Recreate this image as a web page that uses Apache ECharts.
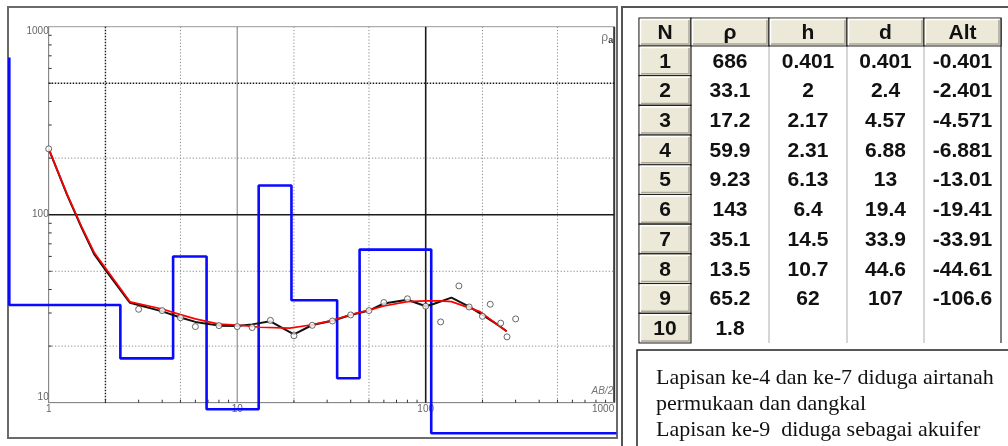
<!DOCTYPE html>
<html>
<head>
<meta charset="utf-8">
<script src="https://cdn.jsdelivr.net/npm/echarts@6/dist/echarts.min.js"></script>
<style>
  html, body { margin: 0; padding: 0; background: #fff; }
  #chart { width: 1008px; height: 446px; }
</style>
</head>
<body>
<div id="chart"></div>
<script>
// ---- Layered earth model (interpretation result) ----
const layerRho = [686, 33.1, 17.2, 59.9, 9.23, 143, 35.1, 13.5, 65.2, 1.8];
const layerH   = [0.401, 2, 2.17, 2.31, 6.13, 6.4, 14.5, 10.7, 62];
const layerD   = [0.401, 2.4, 4.57, 6.88, 13, 19.4, 33.9, 44.6, 107];
const layerAlt = [-0.401, -2.401, -4.571, -6.881, -13.01, -19.41, -33.91, -44.61, -106.6];
const tableHeaders = ['N', 'ρ', 'h', 'd', 'Alt'];

// ---- Field sounding: AB/2 (m) vs apparent resistivity (Ohm.m) ----
const obsAB2 = [1, 3, 4, 5, 6, 8, 10, 12, 15, 20, 25, 32, 40, 50, 60, 80, 100, 120, 150, 170, 200, 220, 250, 270, 300];
const obsRho = [224, 31.4, 30.9, 28.3, 25.4, 25.7, 25.4, 25.1, 27.4, 22.7, 25.8, 27.2, 29.3, 30.9, 34.1, 35.7, 32.6, 26.9, 41.8, 32.3, 28.8, 33.4, 26.5, 22.4, 27.9];

// ---- Smoothed field curve ----
const smoothAB2 = [1, 1.25, 1.5, 1.75, 2, 2.7, 4, 5, 6, 8, 10, 12, 15, 20, 25, 32, 40, 50, 60, 80, 100, 110, 137, 171, 200, 246, 269];
const smoothRho = [224, 128, 84.7, 61.2, 50.8, 34.0, 30.6, 28.4, 26.9, 25.7, 25.6, 26.1, 27.1, 23.1, 25.9, 27.3, 29.3, 30.9, 33.7, 35.3, 32.6, 33.5, 36.2, 32.3, 29.3, 25.6, 24.0];

// ---- Calculated model curve ----
const modelAB2 = [1, 1.25, 1.5, 1.75, 2, 2.7, 4, 5, 6, 8, 10, 13.2, 19, 24.5, 31.7, 39.6, 50, 60, 80, 100, 120, 137, 194, 268];
const modelRho = [224, 129, 85.5, 62.5, 52.1, 34.4, 31.5, 29.4, 27.9, 26.2, 25.9, 25.2, 24.9, 25.9, 27.3, 29.3, 31.1, 32.7, 34.5, 34.8, 34.8, 34.5, 30.5, 24.0];

// ---- Axis decoration ----
const xRange = [1, 1000];
const yRange = [10, 1000];
const xGridDotted = [5, 20, 50, 200, 500];
const xGridBold = [2];
const xGridSolid = [10];
const xGridHeavy = [100];
const yGridDotted = [20, 50, 200];
const yGridBold = [500];
const yGridHeavy = [100];
const minorMultipliers = [2, 3, 4, 5, 6, 7, 8, 9];
const xDecades = [1, 10, 100];
const yDecades = [10, 100];

// ---- Layout ----
const PLOT = { left: 48.7, top: 26.7, width: 565.5, height: 376 };
const MODEL_BOX = { left: 9.3, right: 616.5, bottom: 433.3 };
const pxPerDecX = PLOT.width / Math.log10(xRange[1] / xRange[0]);
const pxPerDecY = PLOT.height / Math.log10(yRange[1] / yRange[0]);
const xMinExt = xRange[0] * Math.pow(10, -(PLOT.left - MODEL_BOX.left) / pxPerDecX);
const xMaxExt = xRange[1] * Math.pow(10, (MODEL_BOX.right - (PLOT.left + PLOT.width)) / pxPerDecX);
const yMinExt = yRange[0] * Math.pow(10, -(MODEL_BOX.bottom - (PLOT.top + PLOT.height)) / pxPerDecY);
const yMaxExt = yRange[1];

// step path of the layer model, clamped to the model panel
function modelSteps() {
  const clampX = v => Math.min(Math.max(v, xMinExt), xMaxExt);
  const clampY = v => Math.min(Math.max(v, yMinExt), yMaxExt);
  const pts = [[xMinExt, clampY(layerRho[0])]];
  for (let i = 0; i < layerD.length; i++) {
    const x = clampX(layerD[i]);
    pts.push([x, clampY(layerRho[i])]);
    pts.push([x, clampY(layerRho[i + 1])]);
  }
  pts.push([xMaxExt, clampY(layerRho[layerRho.length - 1])]);
  return pts;
}

const zip = (a, b) => a.map((v, i) => [v, b[i]]);

function gridLineItems(values, style) {
  return values.map(v => ({ value: [v, yRange[0]], s: style }));
}
const GRID_STYLES = {
  dotted: { stroke: '#8a8a8a', lineWidth: 1, lineDash: [1.2, 2] },
  bold:   { stroke: '#1a1a1a', lineWidth: 1.4, lineDash: [1.5, 1.5] },
  solid:  { stroke: '#777', lineWidth: 1 },
  heavy:  { stroke: '#1a1a1a', lineWidth: 1.6 }
};
const vGrid = [].concat(
  gridLineItems(xGridDotted, 'dotted'), gridLineItems(xGridBold, 'bold'),
  gridLineItems(xGridSolid, 'solid'), gridLineItems(xGridHeavy, 'heavy'));
const hGrid = [].concat(
  yGridDotted.map(v => ({ value: [xRange[0], v], s: 'dotted' })),
  yGridBold.map(v => ({ value: [xRange[0], v], s: 'bold' })),
  yGridHeavy.map(v => ({ value: [xRange[0], v], s: 'heavy' })));
const hGridStyle = hGrid.map(d => d.s);
const vGridStyle = vGrid.map(d => d.s);

const xMinor = [];
xDecades.forEach(d => minorMultipliers.forEach(m => xMinor.push([d * m, yRange[0]])));
const yMinor = [];
yDecades.forEach(d => minorMultipliers.forEach(m => yMinor.push([xRange[0], d * m])));

// ---- Table on the right ----
const TABLE = { cols: [639, 691, 769, 847, 924, 1001], top: 18, headH: 28, rowH: 29.7 };
const BEIGE = '#ECE9D8';
const tableFont = 'bold 21px "Liberation Sans", Arial, sans-serif';

function fmt(v) { return v === undefined ? '' : String(v); }

function buildTable() {
  const g = [];
  const c = TABLE.cols;
  const nRows = layerRho.length;
  const bodyTop = TABLE.top + TABLE.headH;
  const bottom = bodyTop + nRows * TABLE.rowH;

  // white body
  g.push({ type: 'rect', shape: { x: c[1], y: bodyTop, width: c[5] - c[1], height: bottom - bodyTop },
           style: { fill: '#fff' } });
  // column separators in the body
  for (let k = 2; k < 5; k++) {
    g.push({ type: 'line', shape: { x1: c[k], y1: bodyTop, x2: c[k], y2: bottom },
             style: { stroke: '#c8c8c8', lineWidth: 1.5 } });
  }
  g.push({ type: 'line', shape: { x1: c[5], y1: TABLE.top, x2: c[5], y2: bottom },
           style: { stroke: '#555', lineWidth: 1.5 } });

  const beigeCell = (x, y, w, h) => {
    g.push({ type: 'rect', shape: { x: x, y: y, width: w, height: h },
             style: { fill: BEIGE, stroke: '#222', lineWidth: 1.2 } });
    g.push({ type: 'polyline', shape: { points: [[x + 1.5, y + h - 1.5], [x + 1.5, y + 1.5], [x + w - 1.5, y + 1.5]] },
             style: { stroke: '#fff', lineWidth: 1.5, fill: null } });
    g.push({ type: 'polyline', shape: { points: [[x + 2, y + h - 2], [x + w - 2, y + h - 2], [x + w - 2, y + 2]] },
             style: { stroke: '#aca899', lineWidth: 1.5, fill: null } });
  };
  const text = (x, y, s) => g.push({ type: 'text', x: x, y: y,
    style: { text: s, font: tableFont, fill: '#111', align: 'center', verticalAlign: 'middle' } });

  // header row
  for (let k = 0; k < 5; k++) {
    beigeCell(c[k], TABLE.top, c[k + 1] - c[k], TABLE.headH);
    text((c[k] + c[k + 1]) / 2, TABLE.top + TABLE.headH / 2 + 1, tableHeaders[k]);
  }
  // body rows
  for (let i = 0; i < nRows; i++) {
    const y = bodyTop + i * TABLE.rowH;
    const cy = y + TABLE.rowH / 2 + 1;
    beigeCell(c[0], y, c[1] - c[0], TABLE.rowH);
    text((c[0] + c[1]) / 2, cy, String(i + 1));
    text((c[1] + c[2]) / 2, cy, fmt(layerRho[i]));
    text((c[2] + c[3]) / 2, cy, fmt(layerH[i]));
    text((c[3] + c[4]) / 2, cy, fmt(layerD[i]));
    text((c[4] + c[5]) / 2, cy, fmt(layerAlt[i]));
  }
  // note box
  const boxTop = bottom + 7;
  g.push({ type: 'rect', shape: { x: 637, y: boxTop, width: 400, height: 120 },
           style: { fill: '#fff', stroke: '#222', lineWidth: 1.5 } });
  const notes = ['Lapisan ke-4 dan ke-7 diduga airtanah', 'permukaan dan dangkal', 'Lapisan ke-9  diduga sebagai akuifer'];
  notes.forEach((s, i) => g.push({ type: 'text', x: 656, y: boxTop + 28 + i * 26,
    style: { text: s, font: '22px "Liberation Serif", "Times New Roman", serif', fill: '#111',
             align: 'left', verticalAlign: 'middle' } }));
  return g;
}

const graphics = [
  // left panel frame
  { type: 'rect', shape: { x: 8, y: 7, width: 609, height: 431 },
    style: { fill: null, stroke: '#6a6a6a', lineWidth: 2 } },
  // right edge of the plot box
  { type: 'line', shape: { x1: PLOT.left + PLOT.width, y1: PLOT.top, x2: PLOT.left + PLOT.width, y2: PLOT.top + PLOT.height },
    style: { stroke: '#3a3a3a', lineWidth: 2 } },
  // right panel frame
  { type: 'polyline', shape: { points: [[622, 446], [622, 7], [1008, 7]] },
    style: { stroke: '#555', lineWidth: 2, fill: null } },
  // axis captions
  { type: 'text', x: PLOT.left + PLOT.width - 1, y: PLOT.top + 11,
    style: { text: '{r|ρ}{s|a}', align: 'right', verticalAlign: 'middle',
             rich: { r: { fontSize: 12, fill: '#777', fontFamily: 'Liberation Sans' },
                     s: { fontSize: 9, fill: '#333', fontWeight: 'bold', padding: [5, 0, 0, 0], fontFamily: 'Liberation Sans' } } } },
  { type: 'text', x: PLOT.left + PLOT.width - 1, y: PLOT.top + PLOT.height - 11,
    style: { text: 'AB/2', align: 'right', verticalAlign: 'middle', fontSize: 10, fontStyle: 'italic',
             fill: '#777', fontFamily: 'Liberation Sans' } }
].concat(buildTable());

const chart = echarts.init(document.getElementById('chart'), null, { renderer: 'canvas' });

const tickFormatter = v => String(Math.round(v));

const option = {
  animation: false,
  backgroundColor: '#fff',
  grid: [
    { left: PLOT.left, top: PLOT.top, width: PLOT.width, height: PLOT.height,
      show: true, borderColor: '#999', borderWidth: 1, backgroundColor: '#fff' },
    { left: MODEL_BOX.left, top: PLOT.top, width: MODEL_BOX.right - MODEL_BOX.left,
      height: MODEL_BOX.bottom - PLOT.top, show: false }
  ],
  xAxis: [
    { type: 'log', logBase: 10, gridIndex: 0, min: xRange[0], max: xRange[1],
      axisLine: { show: true, lineStyle: { color: '#888', width: 1 } },
      axisTick: { show: false }, splitLine: { show: false }, minorTick: { show: false },
      axisLabel: { color: '#666', fontSize: 10, margin: 2, fontFamily: 'Liberation Sans',
                   formatter: tickFormatter, alignMaxLabel: 'right' } },
    { type: 'log', logBase: 10, gridIndex: 1, min: xMinExt, max: xMaxExt, show: false }
  ],
  yAxis: [
    { type: 'log', logBase: 10, gridIndex: 0, min: yRange[0], max: yRange[1],
      axisLine: { show: true, lineStyle: { color: '#888', width: 1 } },
      axisTick: { show: false }, splitLine: { show: false }, minorTick: { show: false },
      axisLabel: { color: '#666', fontSize: 10, margin: 0, fontFamily: 'Liberation Sans',
                   formatter: tickFormatter,
                   verticalAlignMaxLabel: 'top', verticalAlignMinLabel: 'bottom' } },
    { type: 'log', logBase: 10, gridIndex: 1, min: yMinExt, max: yMaxExt, show: false }
  ],
  series: [
    { // vertical grid lines
      type: 'custom', xAxisIndex: 0, yAxisIndex: 0, z: 1, silent: true, clip: false,
      data: vGrid.map(d => d.value),
      renderItem: (params, api) => {
        const v = api.value(0);
        const a = api.coord([v, yRange[1]]), b = api.coord([v, yRange[0]]);
        return { type: 'line', shape: { x1: a[0], y1: a[1], x2: b[0], y2: b[1] },
                 style: GRID_STYLES[vGridStyle[params.dataIndex]] };
      }
    },
    { // horizontal grid lines
      type: 'custom', xAxisIndex: 0, yAxisIndex: 0, z: 1, silent: true, clip: false,
      data: hGrid.map(d => d.value),
      renderItem: (params, api) => {
        const v = api.value(1);
        const a = api.coord([xRange[0], v]), b = api.coord([xRange[1], v]);
        return { type: 'line', shape: { x1: a[0], y1: a[1], x2: b[0], y2: b[1] },
                 style: GRID_STYLES[hGridStyle[params.dataIndex]] };
      }
    },
    { // minor ticks on the AB/2 axis
      type: 'custom', xAxisIndex: 0, yAxisIndex: 0, z: 1, silent: true, clip: false,
      data: xMinor,
      renderItem: (params, api) => {
        const p = api.coord([api.value(0), yRange[0]]);
        return { type: 'line', shape: { x1: p[0], y1: p[1], x2: p[0], y2: p[1] - 3 },
                 style: { stroke: '#333', lineWidth: 1 } };
      }
    },
    { // minor ticks on the resistivity axis
      type: 'custom', xAxisIndex: 0, yAxisIndex: 0, z: 1, silent: true, clip: false,
      data: yMinor,
      renderItem: (params, api) => {
        const p = api.coord([xRange[0], api.value(1)]);
        return { type: 'line', shape: { x1: p[0], y1: p[1], x2: p[0] + 3, y2: p[1] },
                 style: { stroke: '#333', lineWidth: 1 } };
      }
    },
    { // layer model
      name: 'model', type: 'line', xAxisIndex: 1, yAxisIndex: 1, z: 3, clip: false,
      data: modelSteps(), showSymbol: false, symbol: 'none',
      lineStyle: { color: '#0a0aff', width: 2.6 }
    },
    { // smoothed field curve
      name: 'smoothed', type: 'line', xAxisIndex: 0, yAxisIndex: 0, z: 4,
      data: zip(smoothAB2, smoothRho), symbol: 'none',
      lineStyle: { color: '#111', width: 2 }
    },
    { // calculated curve
      name: 'calculated', type: 'line', xAxisIndex: 0, yAxisIndex: 0, z: 5,
      data: zip(modelAB2, modelRho), symbol: 'none',
      lineStyle: { color: '#ff0000', width: 1.7 }
    },
    { // field measurements
      name: 'field', type: 'scatter', xAxisIndex: 0, yAxisIndex: 0, z: 6,
      data: zip(obsAB2, obsRho), symbol: 'circle', symbolSize: 6,
      itemStyle: { color: '#fff', borderColor: '#444', borderWidth: 1 }
    }
  ],
  graphic: { elements: graphics }
};

chart.setOption(option);
</script>
</body>
</html>
